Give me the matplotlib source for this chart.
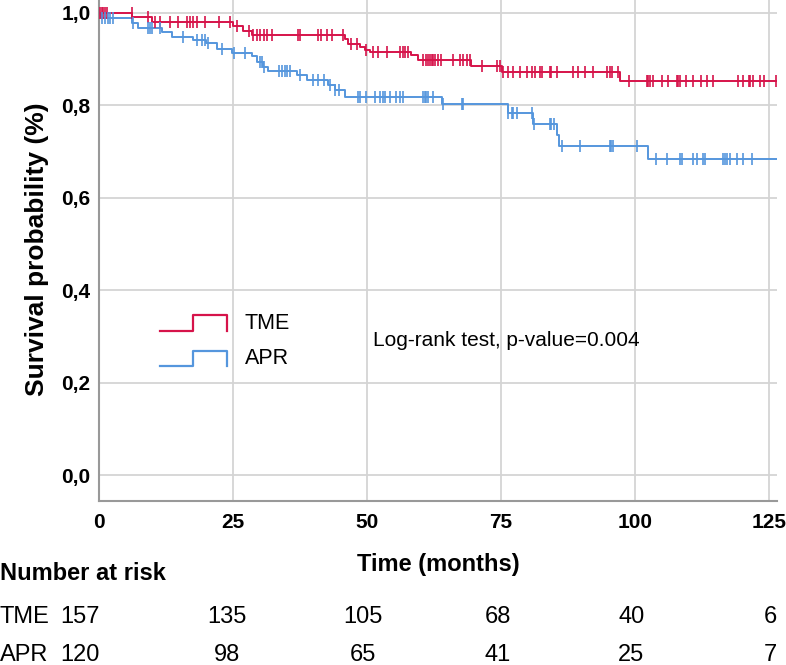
import matplotlib
matplotlib.use("Agg")
import matplotlib.pyplot as plt
import numpy as np

plt.rcParams['font.family'] = ['Liberation Sans', 'DejaVu Sans']
narrow = ['Liberation Sans Narrow', 'Liberation Sans', 'DejaVu Sans']

# Kaplan-Meier steps (time in months, survival after step)
tme_times = [0, 6.2, 9.8, 25.0, 26.8, 28.5, 45.9, 46.5, 48.7, 49.6, 50.5,
             58.3, 59.5, 69.5, 75.1, 97.2]
tme_surv = [1.0, 0.992, 0.981, 0.972, 0.962, 0.952, 0.944, 0.933, 0.927,
            0.920, 0.916, 0.909, 0.898, 0.886, 0.873, 0.853]
tme_cens = [0.2, 0.5, 0.8, 1.1, 1.4, 6.1, 9.2, 10.4, 11.4, 13.2, 14.8, 16.4,
            17.0, 17.6, 18.2, 19.8, 22.3, 24.4, 25.7, 27.9, 28.8, 29.4, 30.0,
            30.7, 31.3, 32.2, 37.2, 37.5, 40.9, 41.5, 42.5, 43.4, 45.6, 47.1,
            48.1, 49.9, 51.2, 52.1, 53.7, 56.1, 56.8, 57.1, 57.7, 60.5, 61.1,
            61.4, 61.8, 62.1, 62.4, 62.7, 63.3, 63.9, 66.1, 67.3, 68.0, 68.6,
            69.2, 71.4, 74.3, 74.8, 75.4, 76.4, 77.3, 78.5, 79.8, 80.7, 81.3,
            82.3, 82.6, 84.1, 84.4, 85.4, 88.5, 89.4, 90.7, 92.2, 94.7, 95.3,
            95.7, 96.8, 98.8, 102.2, 102.5, 102.8, 103.4, 105.0, 106.2, 107.8,
            108.1, 108.4, 109.6, 110.9, 112.4, 113.4, 114.6, 119.3, 120.2,
            121.2, 121.5, 122.1, 123.4, 124.0, 126.3]

apr_times = [0, 0.3, 6.2, 7.3, 11.8, 13.6, 17.5, 20.0, 22.0, 24.8, 28.5, 29.4,
             30.6, 31.5, 36.9, 38.8, 42.7, 44.0, 45.9, 64.0, 76.3, 81.0, 85.4,
             85.9, 102.4]
apr_surv = [1.0, 0.988, 0.978, 0.967, 0.958, 0.948, 0.942, 0.935, 0.922,
            0.913, 0.907, 0.894, 0.883, 0.874, 0.866, 0.855, 0.844, 0.833,
            0.818, 0.803, 0.783, 0.760, 0.736, 0.712, 0.684]
apr_cens = [0.5, 1.1, 1.7, 2.0, 2.7, 6.4, 9.2, 9.5, 9.8, 11.4, 15.7, 18.2,
            19.2, 19.8, 20.4, 22.9, 25.1, 27.2, 30.0, 30.4, 30.7, 33.5, 34.1,
            34.7, 35.0, 35.6, 37.5, 39.9, 40.9, 41.9, 43.1, 44.0, 44.7, 48.4,
            48.7, 49.9, 51.5, 52.4, 53.0, 53.4, 54.3, 55.5, 56.2, 56.8, 60.5,
            60.8, 61.1, 61.4, 62.4, 64.2, 67.7, 68.0, 76.4, 77.0, 77.3, 77.9,
            80.7, 81.2, 84.1, 84.4, 84.8, 86.3, 89.7, 95.3, 95.6, 95.9, 100.3,
            104.0, 105.9, 108.4, 108.7, 110.9, 111.5, 112.7, 113.0, 116.5,
            116.8, 117.1, 117.7, 119.0, 120.2, 121.8]
t_end = 126.5

groups = ['TME', 'APR']
risk_tme = [157, 135, 105, 68, 40, 6]
risk_apr = [120, 98, 65, 41, 25, 7]
xticks = [0, 25, 50, 75, 100, 125]
yticks = [0.0, 0.2, 0.4, 0.6, 0.8, 1.0]

red = '#d6134a'
blue = '#5596dd'

fig = plt.figure(figsize=(7.86, 6.65), dpi=100)
ax = fig.add_axes([99 / 786, 1 - 501 / 665, 678 / 786, 501 / 665])


def km(ax, times, surv, cens, color):
    x = list(times) + [t_end]
    y = list(surv) + [surv[-1]]
    ax.step(x, y, where='post', color=color, lw=1.4, zorder=3)
    idx = np.searchsorted(times, cens, side='right') - 1
    cy = np.array(surv)[idx]
    ax.plot(cens, cy, ls='none', marker='|', ms=8, mew=1.2, color=color,
            zorder=4)


km(ax, tme_times, tme_surv, tme_cens, red)
km(ax, apr_times, apr_surv, apr_cens, blue)

ax.set_xlim(0, t_end)
ax.set_ylim(-0.056, 1.028)
ax.set_xticks(xticks)
ax.set_yticks(yticks)
ax.set_yticklabels([f'{v:.1f}'.replace('.', ',') for v in yticks])
ax.grid(True, color='#d4d4d4', lw=1.3, zorder=0)
ax.set_axisbelow(True)
for s in ['top', 'right']:
    ax.spines[s].set_visible(False)
for s in ['left', 'bottom']:
    ax.spines[s].set_color('#999999')
    ax.spines[s].set_linewidth(1.5)
ax.tick_params(length=0)
ax.tick_params(axis='x', pad=9)
ax.tick_params(axis='y', pad=6)
for lab in ax.get_xticklabels() + ax.get_yticklabels():
    lab.set_fontweight('bold')
    lab.set_fontsize(15)
    lab.set_family(narrow)

# legend drawn as step glyphs
for color, yl, yh, name in [(red, 0.339, 0.371, groups[0]),
                            (blue, 0.2695, 0.2994, groups[1])]:
    ax.plot([0.090, 0.1386, 0.1386, 0.1888, 0.1888], [yl, yl, yh, yh, yl],
            color=color, lw=1.6, transform=ax.transAxes, clip_on=False)
    ax.text(0.2153, (yl + yh) / 2, name, transform=ax.transAxes,
            fontsize=15.5, va='center', ha='left')
ax.text(0.404, 0.321, 'Log-rank test, p-value=0.004', transform=ax.transAxes,
        fontsize=15, va='center', ha='left')

fig.text(0.047, 0.625, 'Survival probability (%)', rotation=90, fontsize=19,
         fontweight='bold', ha='center', va='center', family=narrow)
fig.text(438 / 786, 1 - 565 / 665, 'Time (months)', fontsize=17,
         fontweight='bold', ha='center', va='center', family=narrow)
fig.text(0.0, 1 - 573 / 665, 'Number at risk', fontsize=17,
         fontweight='bold', ha='left', va='center', family=narrow)

# number-at-risk table
col_x = [-3.5, 23.9, 49.2, 74.4, 99.3, 125.2]
for row_y, name, vals in [(617, groups[0], risk_tme), (655, groups[1], risk_apr)]:
    fy = 1 - row_y / 665
    fig.text(0.0, fy, name, fontsize=17, ha='left', va='center', family=narrow)
    for cx, v in zip(col_x, vals):
        px = ax.transData.transform((cx, 0))[0]
        fig.text(px / 786, fy, str(v), fontsize=17, ha='center', va='center',
                 family=narrow)

fig.savefig('out.png', dpi=100)
